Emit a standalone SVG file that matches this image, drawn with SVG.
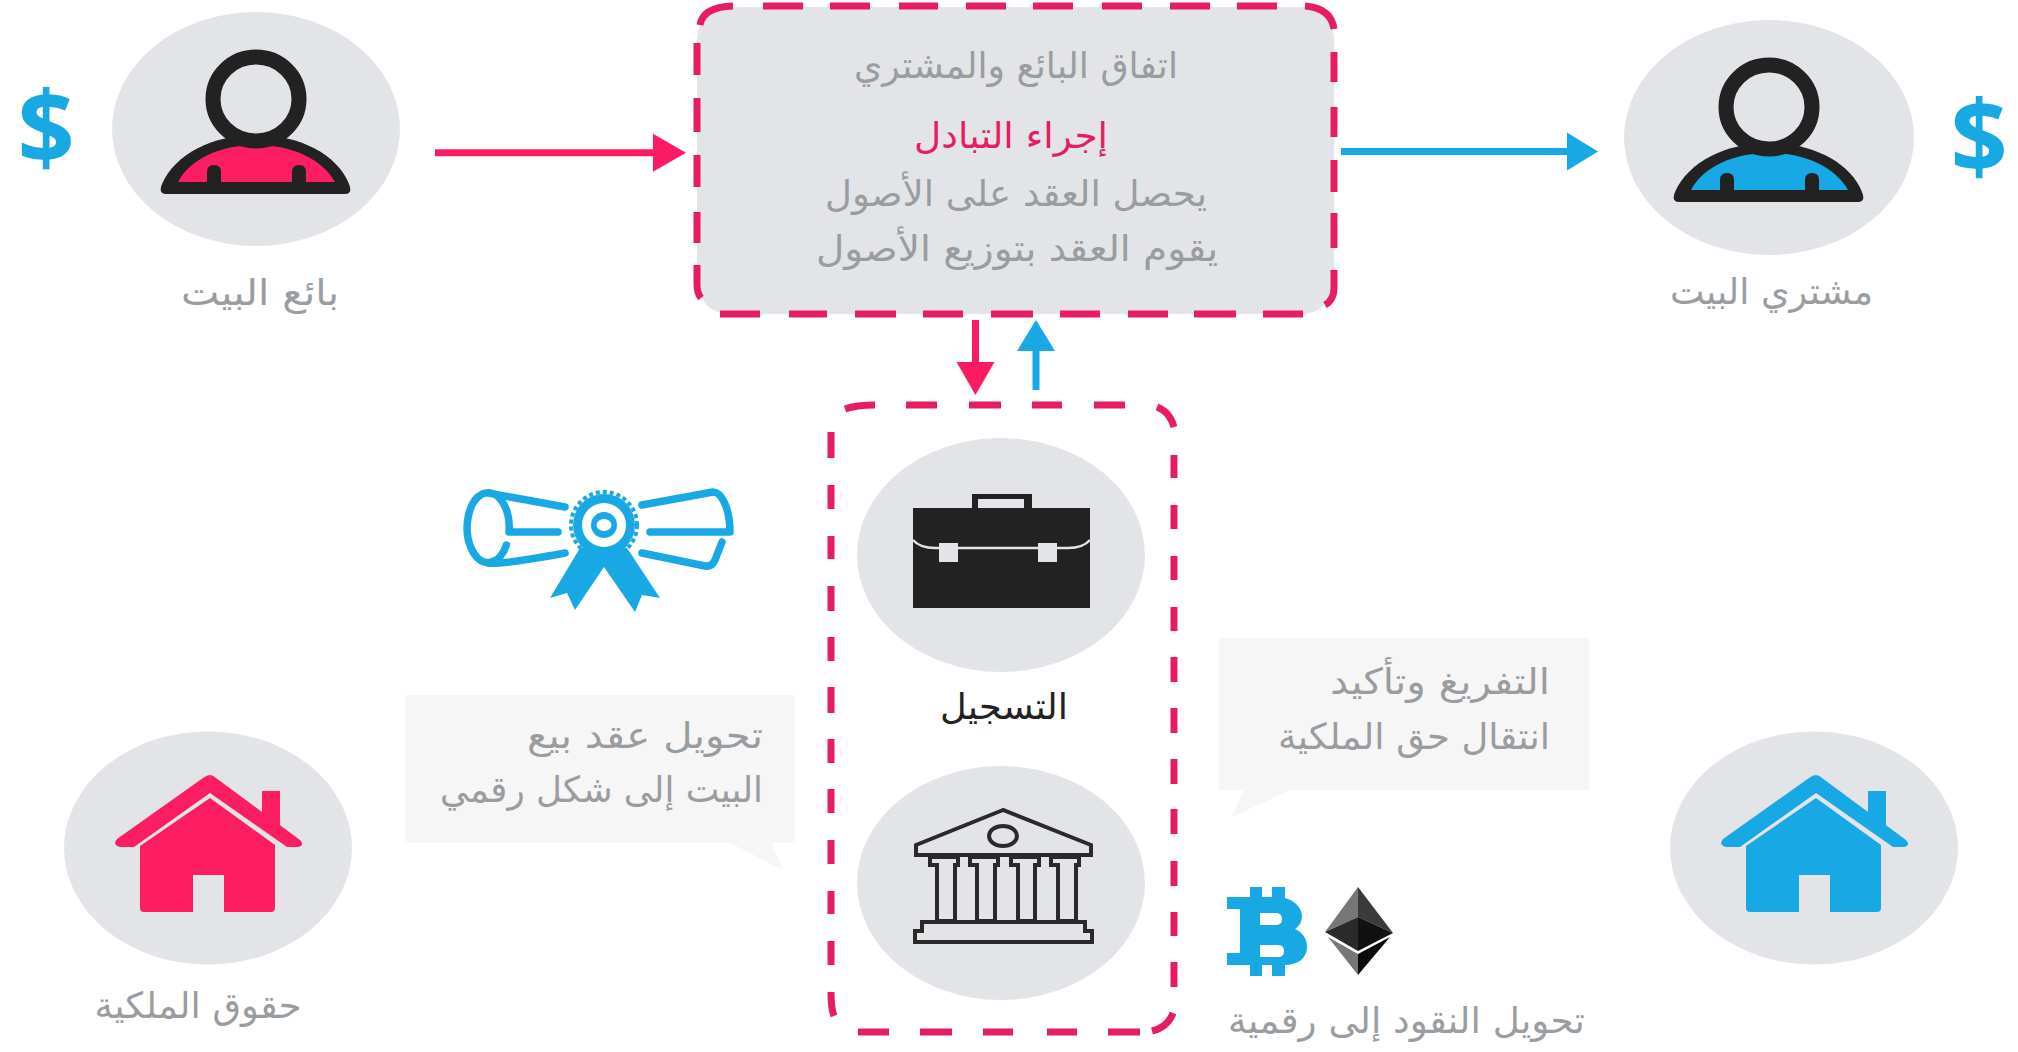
<svg xmlns="http://www.w3.org/2000/svg" xmlns:xlink="http://www.w3.org/1999/xlink" width="2018" height="1052" viewBox="0 0 2018 1052">
<style>
text{font-family:"DejaVu Sans","Noto Sans",sans-serif;direction:rtl;fill:#9a9da0;font-size:36px;text-anchor:middle}
text.dollar{font-family:"Open Sans","DejaVu Sans",sans-serif;font-weight:bold;font-size:100px;fill:#18a8e4;direction:ltr}
.c{fill:#e2e4e7}
.d{fill:none;stroke:#e81c63;stroke-width:7}
.bub{fill:#f6f6f7}
.ln{stroke-width:7.5;stroke-linecap:round;stroke-linejoin:round;fill:none;stroke:#18a8e4}
.bk{fill:#e2e4e7;stroke:#2a2a2a;stroke-width:4;stroke-linejoin:miter}
.a{fill:none;stroke-width:7}
</style>
<defs>
<g id="person">
<path fill="#222" d="M1679,202H1858Q1866,202 1862,192C1850,162 1812,143 1769,143C1726,143 1688,162 1675,192Q1671,202 1679,202Z"/>
<path d="M1691,190H1848C1835,167 1805,153 1769,153C1733,153 1703,167 1691,190Z"/>
<ellipse cx="1769" cy="107" rx="43" ry="42" fill="#e2e4e7" stroke="#222" stroke-width="15"/>
<path fill="#222" d="M1720,197V180Q1720,173 1727,173Q1734,173 1734,180V197ZM1805,197V180Q1805,173 1812,173Q1819,173 1819,180V197Z"/>
</g>
<g id="house">
<path d="M262,791H280V830L262,818Z"/>
<path d="M210,775Q207,775 203,778L117,839Q112,845 120,847H134L210,793L287,847H298Q305,845 300,840L216,778Q213,775 210,775Z"/>
<path d="M210,798L275,845V908Q275,912 271,912H224V875H193V912H144Q140,912 140,908V846Z"/>
</g>
<marker id="pk" markerUnits="userSpaceOnUse" markerWidth="33" markerHeight="40" refX="1" refY="20" orient="auto"><path d="M0,1L33,20L0,39Z" fill="#fa1b62"/></marker>
<marker id="bl" markerUnits="userSpaceOnUse" markerWidth="31" markerHeight="40" refX="1" refY="20" orient="auto"><path d="M0,1L31,20L0,39Z" fill="#18a8e4"/></marker>
</defs>
<rect width="2018" height="1052" fill="#fff"/>

<g id="seller">
<text class="dollar" x="46" y="164">$</text>
<ellipse class="c" cx="256" cy="129" rx="144" ry="117"/>
<use xlink:href="#person" href="#person" fill="#fd1d62" transform="translate(-1513,-8)"/>
<text x="260" y="305" textLength="158" lengthAdjust="spacingAndGlyphs">بائع البيت</text>
</g>

<g id="buyer">
<text class="dollar" x="1979" y="173">$</text>
<ellipse class="c" cx="1769" cy="137.5" rx="145" ry="117.5"/>
<use xlink:href="#person" href="#person" fill="#18a8e4"/>
<text x="1771.5" y="304" textLength="203" lengthAdjust="spacingAndGlyphs">مشتري البيت</text>
</g>

<g id="exchange">
<rect class="c" x="697" y="7" width="637" height="307" rx="32" ry="32"/>
<path class="d" d="M700,25Q703,7 733,6M763,6H803M830,6H870M899,6H938M966,6H1006M1033,6H1073M1102,6H1142M1170,6H1210M1237,6H1277M1305,6Q1331,8 1334,29M1334,52V82M1334,107V137M1334,160V192M1334,213V248M1334,270V288Q1334,300 1325,305M1303,314H1263M1236,314H1194M1168,314H1128M1100,314H1060M1033,314H991M963,314H923M896,314H855M827,314H789M760,314H720M701,298Q697,293 697,285V265M697,243V212M697,187V155M697,132V98M697,75V43"/>
<text x="1016" y="78" textLength="324" lengthAdjust="spacingAndGlyphs">اتفاق البائع والمشتري</text>
<text x="1011" y="148" textLength="194" lengthAdjust="spacingAndGlyphs" style="fill:#e81c63">إجراء التبادل</text>
<text x="1016" y="206" textLength="382" lengthAdjust="spacingAndGlyphs">يحصل العقد على الأصول</text>
<text x="1017" y="261" textLength="402" lengthAdjust="spacingAndGlyphs">يقوم العقد بتوزيع الأصول</text>
</g>

<g id="registry">
<path class="d" d="M845,409Q856,405 875,405M906,405H937M969,405H1001M1032,405H1062M1094,405H1125M1157,407Q1170,412 1174,427M1174,455V478M1174,505V529M1174,556V580M1174,607V631M1174,657V682M1174,708V733M1174,759V784M1174,809V834M1174,861V886M1174,912V936M1174,962V987M1173,1013Q1168,1027 1152,1031M1140,1032H1108M1077,1032H1047M1013,1032H983M952,1032H920M889,1032H858M834,1016Q831,1008 831,992M831,965V941M831,914V891M831,864V840M831,813V789M831,763V739M831,713V687M831,661V637M831,611V586M831,559V536M831,509V485M831,458V432"/>
<ellipse class="c" cx="1001" cy="555" rx="144" ry="117"/>
<ellipse class="c" cx="1001" cy="883" rx="144" ry="117"/>
<g id="briefcase">
<path fill="#222" d="M972,508V494H1032V508H1090V608H913V508Z"/>
<rect class="c" x="978" y="499" width="46" height="9"/>
<path d="M913,540Q920,548 935,548H1068Q1083,548 1090,540" fill="none" stroke="#e2e4e7" stroke-width="2.5"/>
<rect class="c" x="939" y="543" width="19" height="19"/>
<rect class="c" x="1038" y="543" width="19" height="19"/>
</g>
<text x="1004" y="719" textLength="128" lengthAdjust="spacingAndGlyphs" style="fill:#222">التسجيل</text>
<g id="bank" transform="translate(0,4)">
<path class="bk" d="M1003,806L916,841V851H1091V841Z"/>
<ellipse class="bk" cx="1003" cy="832" rx="14" ry="10"/>
<path class="bk" d="M930,853H958V861H955V917H937V861H930ZM970,853H998V861H995V917H977V861H970ZM1011,853H1039V861H1035V917H1018V861H1011ZM1051,853H1079V861H1076V917H1058V861H1051Z"/>
<path class="bk" d="M922,918H1085V927H1092V938H915V927H922Z"/>
</g>
</g>

<g id="contract">
<path class="ln" d="M506.4,545A21,35 0 1 1 509,532H558M488,493L565,507M488,563Q500,565 565,553"/>
<path class="ln" d="M642,505L713,492C722,492 730,510 730,532H650M642,553L705,566Q712,567 715,560L722,542"/>
<path fill="#18a8e4" d="M580,548L550,598L567,593L575,610L604,567L635,612L642,595L660,598L627,548Z"/>
<circle cx="604" cy="525" r="31" fill="#18a8e4"/>
<circle cx="604" cy="525" r="33" fill="none" stroke="#18a8e4" stroke-width="4" stroke-dasharray="4 3"/>
<circle cx="604" cy="525" r="22" fill="#fff"/>
<ellipse cx="604" cy="525" rx="13" ry="13" fill="#18a8e4"/>
<ellipse cx="604" cy="525" rx="7.5" ry="6" fill="#fff"/>
</g>

<g id="note-left">
<path class="bub" d="M405,695H795V843H772L783,870L730,843H405Z"/>
<text x="645" y="748" textLength="236" lengthAdjust="spacingAndGlyphs">تحويل عقد بيع</text>
<text x="601.5" y="802" textLength="323" lengthAdjust="spacingAndGlyphs">البيت إلى شكل رقمي</text>
</g>

<g id="note-right">
<path class="bub" d="M1219,638H1589V790H1290L1232,817L1243,790H1219Z"/>
<text x="1440" y="694" textLength="220" lengthAdjust="spacingAndGlyphs">التفريغ وتأكيد</text>
<text x="1414" y="749" textLength="272" lengthAdjust="spacingAndGlyphs">انتقال حق الملكية</text>
</g>

<g id="crypto">
<path fill="#18a8e4" fill-rule="evenodd" d="M1227,897H1250V887H1262V897H1272V887H1285V898C1297,901 1302,910 1302,916C1302,923 1298,927 1295,929C1302,932 1307,938 1307,947C1307,958 1298,965 1285,965V976H1272V965H1262V976H1250V965H1227V953H1240V909H1227ZM1260,913V925H1276Q1282,925 1282,919Q1282,913 1276,913ZM1260,945V957H1278Q1284,957 1284,951Q1284,945 1278,945Z"/>
<path fill="#777" d="M1358,887L1325,932L1358,917Z"/>
<path fill="#3a3a3a" d="M1358,887L1393,933L1358,917Z"/>
<path fill="#2a2a2a" d="M1325,932L1358,917V951Z"/>
<path fill="#111" d="M1393,933L1358,917V951Z"/>
<path fill="#777" d="M1328,937L1358,975V954Z"/>
<path fill="#0a0a0a" d="M1390,937L1358,975V954Z"/>
<text x="1406.5" y="1033" textLength="357" lengthAdjust="spacingAndGlyphs">تحويل النقود إلى رقمية</text>
</g>

<g id="property-left">
<ellipse class="c" cx="208" cy="848" rx="144" ry="116.5"/>
<use xlink:href="#house" href="#house" fill="#fd1d62"/>
<text x="198" y="1018" textLength="207" lengthAdjust="spacingAndGlyphs">حقوق الملكية</text>
</g>

<g id="property-right">
<ellipse class="c" cx="1814" cy="848" rx="144" ry="116.5"/>
<use xlink:href="#house" href="#house" fill="#18a8e4" transform="translate(1606,0)"/>
</g>

<g id="connectors">
<path class="a" stroke="#fa1b62" d="M435,152.7H654" marker-end="url(#pk)"/>
<path class="a" stroke="#18a8e4" d="M1341,151.5H1568" marker-end="url(#bl)"/>
<path class="a" stroke="#fa1b62" d="M975.5,320V363" marker-end="url(#pk)"/>
<path class="a" stroke="#18a8e4" d="M1036,390V350" marker-end="url(#bl)"/>
</g>
</svg>
